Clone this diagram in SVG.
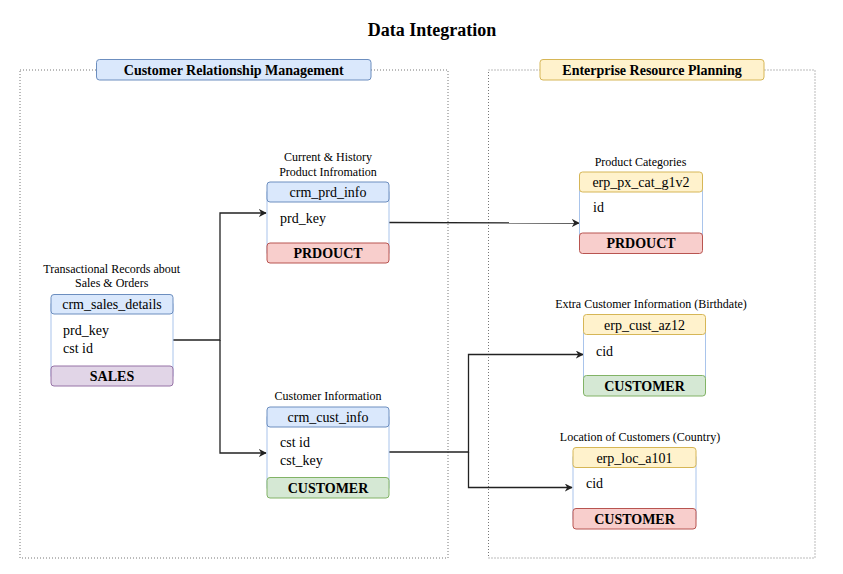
<svg xmlns="http://www.w3.org/2000/svg" width="843" height="574" viewBox="0 0 843 574">
<defs>
<style>
text{font-family:"Liberation Serif","Times New Roman",serif;fill:#000}
.title{font-size:18px;font-weight:bold}
.clabel{font-size:14px;font-weight:bold}
.lbl{font-size:12px}
.hdr{font-size:14px}
.fld{font-size:14px}
.ftr{font-size:14px;font-weight:bold}
.cont{fill:none;stroke:#777;stroke-width:1;stroke-dasharray:1 2}
.body{fill:#fff;stroke:#a9c4eb;stroke-width:1}
.blue{fill:#dae8fc;stroke:#6c8ebf;stroke-width:1}
.yellow{fill:#fff2cc;stroke:#d6b656;stroke-width:1}
.red{fill:#f8cecc;stroke:#b85450;stroke-width:1}
.green{fill:#d5e8d4;stroke:#82b366;stroke-width:1}
.purple{fill:#e1d5e7;stroke:#9673a6;stroke-width:1}
.conn{fill:none;stroke:#222;stroke-width:1.3}
</style>
<marker id="arr" viewBox="0 0 10 10" refX="9" refY="5" markerWidth="8" markerHeight="8" markerUnits="userSpaceOnUse" orient="auto">
<path d="M0,0 L10,5 L0,10 L3,5 Z" fill="#222"/>
</marker>
</defs>
<rect width="843" height="574" fill="#fff"/>
<text class="title" x="432" y="36" text-anchor="middle">Data Integration</text>

<g id="crm-container">
<rect class="cont" x="20" y="70" width="428" height="488"/>
<rect class="blue" x="96.5" y="59.5" width="274.5" height="20.5" rx="3"/>
<text class="clabel" x="233.7" y="75" text-anchor="middle">Customer Relationship Management</text>
</g>
<g id="erp-container">
<rect class="cont" x="488.5" y="70" width="326.5" height="488"/>
<rect class="yellow" x="540" y="59.5" width="224" height="20.5" rx="3"/>
<text class="clabel" x="652" y="75" text-anchor="middle">Enterprise Resource Planning</text>
</g>

<g id="connectors">
<polyline class="conn" points="173,340 220,340 220,213 266,213" marker-end="url(#arr)"/>
<polyline class="conn" points="220,340 220,453 266,453" marker-end="url(#arr)"/>
<polyline class="conn" points="389,222.5 579,223" marker-end="url(#arr)"/>
<polyline class="conn" points="389,452 468.5,452 468.5,354.5 583,354.5" marker-end="url(#arr)"/>
<polyline class="conn" points="468.5,452 468.5,487.5 572,487.5" marker-end="url(#arr)"/>
</g>

<g id="crm_sales_details">
<text class="lbl" x="111.7" y="273" text-anchor="middle">Transactional Records about</text>
<text class="lbl" x="111.7" y="287" text-anchor="middle">Sales &amp; Orders</text>
<rect class="body" x="51" y="304" width="122" height="72"/>
<rect class="blue" x="51" y="294.5" width="122" height="19.5" rx="3"/>
<text class="hdr" x="112" y="309" text-anchor="middle">crm_sales_details</text>
<text class="fld" x="63" y="335">prd_key</text>
<text class="fld" x="63" y="353">cst id</text>
<rect class="purple" x="51" y="366" width="122" height="20" rx="3"/>
<text class="ftr" x="112" y="381" text-anchor="middle">SALES</text>
</g>

<g id="crm_prd_info">
<text class="lbl" x="328" y="161" text-anchor="middle">Current &amp; History</text>
<text class="lbl" x="328" y="176" text-anchor="middle">Product Infromation</text>
<rect class="body" x="267" y="192" width="122" height="61"/>
<rect class="blue" x="267" y="182" width="122" height="20" rx="3"/>
<text class="hdr" x="328" y="197" text-anchor="middle">crm_prd_info</text>
<text class="fld" x="280" y="223">prd_key</text>
<rect class="red" x="267" y="243" width="122" height="20" rx="3"/>
<text class="ftr" x="328" y="258" text-anchor="middle">PRDOUCT</text>
</g>

<g id="crm_cust_info">
<text class="lbl" x="328" y="400" text-anchor="middle">Customer Information</text>
<rect class="body" x="267" y="417" width="122" height="71"/>
<rect class="blue" x="267" y="407" width="122" height="20" rx="3"/>
<text class="hdr" x="328" y="422" text-anchor="middle">crm_cust_info</text>
<text class="fld" x="280" y="447">cst id</text>
<text class="fld" x="280" y="465">cst_key</text>
<rect class="green" x="267" y="477.5" width="122" height="20.5" rx="3"/>
<text class="ftr" x="328" y="493" text-anchor="middle">CUSTOMER</text>
</g>

<g id="erp_px_cat_g1v2">
<text class="lbl" x="640.5" y="166" text-anchor="middle">Product Categories</text>
<rect class="body" x="579.5" y="182" width="123" height="61"/>
<rect class="yellow" x="579.5" y="172" width="123" height="20" rx="3"/>
<text class="hdr" x="641" y="187" text-anchor="middle">erp_px_cat_g1v2</text>
<text class="fld" x="593" y="212">id</text>
<rect class="red" x="579.5" y="233" width="123" height="20.5" rx="3"/>
<text class="ftr" x="641" y="248" text-anchor="middle">PRDOUCT</text>
</g>

<g id="erp_cust_az12">
<text class="lbl" x="651" y="308" text-anchor="middle">Extra Customer Information (Birthdate)</text>
<rect class="body" x="583.5" y="324" width="122" height="62"/>
<rect class="yellow" x="583.5" y="314.5" width="122" height="20" rx="3"/>
<text class="hdr" x="644.5" y="329.5" text-anchor="middle">erp_cust_az12</text>
<text class="fld" x="596" y="356">cid</text>
<rect class="green" x="583.5" y="375.5" width="122" height="20.5" rx="3"/>
<text class="ftr" x="644.5" y="391" text-anchor="middle">CUSTOMER</text>
</g>

<g id="erp_loc_a101">
<text class="lbl" x="640" y="441" text-anchor="middle">Location of Customers (Country)</text>
<rect class="body" x="573" y="457" width="123" height="62"/>
<rect class="yellow" x="573" y="447.5" width="123" height="20" rx="3"/>
<text class="hdr" x="634.5" y="462.5" text-anchor="middle">erp_loc_a101</text>
<text class="fld" x="586" y="488">cid</text>
<rect class="red" x="573" y="508.5" width="123" height="20.5" rx="3"/>
<text class="ftr" x="634.5" y="524" text-anchor="middle">CUSTOMER</text>
</g>
</svg>
